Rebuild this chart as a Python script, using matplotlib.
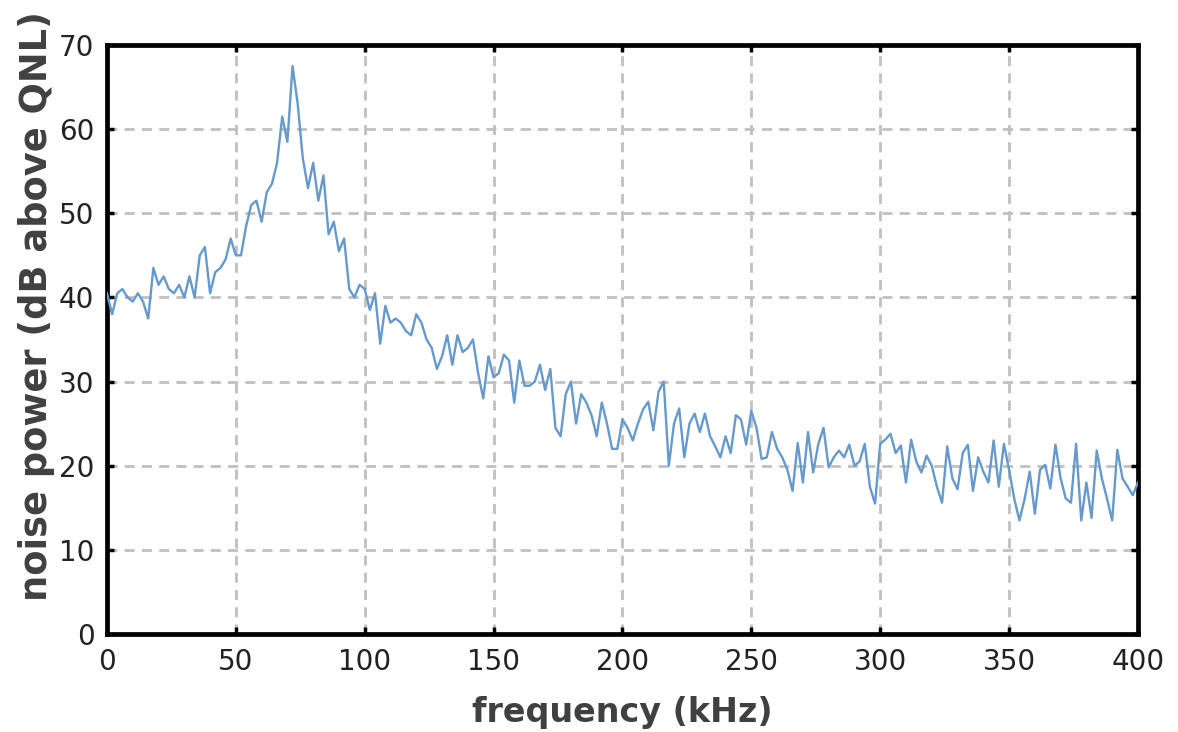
# noise power spectrum above the quantum noise limit
import numpy as np
import matplotlib.pyplot as plt

# frequency axis, 2 kHz bins from 0 to 400 kHz
freq = np.arange(0, 401, 2)

# measured noise power (dB above QNL), one value per bin
noise_db = [
    40.5, 38.0, 40.5, 41.0, 40.0, 39.5, 40.5, 39.5, 37.5, 43.5,
    41.5, 42.5, 41.0, 40.5, 41.5, 40.0, 42.5, 40.0, 45.0, 46.0,
    40.5, 43.0, 43.5, 44.5, 47.0, 45.0, 45.0, 48.5, 51.0, 51.5,
    49.0, 52.5, 53.5, 56.0, 61.5, 58.5, 67.5, 63.0, 56.5, 53.0,
    56.0, 51.5, 54.5, 47.5, 49.0, 45.5, 47.0, 41.0, 40.0, 41.5,
    41.0, 38.5, 40.5, 34.5, 39.0, 37.0, 37.5, 37.0, 36.0, 35.5,
    38.0, 37.0, 35.0, 34.0, 31.5, 33.0, 35.5, 32.0, 35.5, 33.5,
    34.0, 35.0, 31.0, 28.0, 33.0, 30.5, 31.0, 33.2, 32.5, 27.5,
    32.5, 29.5, 29.5, 30.0, 32.0, 29.0, 31.5, 24.5, 23.5, 28.5,
    30.0, 25.0, 28.5, 27.5, 26.0, 23.5, 27.5, 25.0, 22.0, 22.0,
    25.5, 24.5, 23.0, 25.0, 26.7, 27.6, 24.2, 28.8, 30.0, 20.0,
    25.0, 26.8, 21.0, 25.0, 26.2, 24.0, 26.2, 23.5, 22.3, 21.0,
    23.5, 21.5, 26.0, 25.5, 22.5, 26.5, 24.5, 20.8, 21.0, 24.0,
    22.0, 21.0, 19.5, 17.0, 22.7, 18.0, 24.0, 19.2, 22.6, 24.5,
    19.8, 21.0, 21.8, 21.0, 22.5, 20.0, 20.5, 22.6, 17.5, 15.5,
    22.6, 23.1, 23.8, 21.5, 22.4, 18.0, 23.1, 20.5, 19.2, 21.2,
    20.0, 17.5, 15.6, 22.3, 18.5, 17.2, 21.5, 22.5, 17.0, 21.0,
    19.3, 18.0, 23.0, 17.5, 22.6, 19.5, 16.1, 13.5, 16.0, 19.3,
    14.3, 19.5, 20.1, 17.3, 22.5, 18.5, 16.1, 15.6, 22.6, 13.5,
    18.0, 13.8, 21.8, 18.5, 16.1, 13.5, 21.9, 18.5, 17.5, 16.5,
    18.0,
]

x_ticks = list(range(0, 401, 50))
y_ticks = list(range(0, 71, 10))

fig = plt.figure(figsize=(11.78, 7.32), dpi=100)
ax = fig.add_axes([0.0908, 0.1339, 0.8752, 0.8046])

ax.plot(freq, noise_db, color='#6699cc', linewidth=1.7, zorder=3)

ax.set_xlim(0, 400)
ax.set_ylim(0, 70)
ax.set_xticks(x_ticks)
ax.set_yticks(y_ticks)

ax.grid(True, color='#c0c0c0', linestyle=(0, (3.6, 2.6)), linewidth=2)
ax.set_axisbelow(True)

for s in ax.spines.values():
    s.set_linewidth(3.4)
    s.set_color('black')

ax.tick_params(axis='both', direction='in', length=5, width=2.5,
               top=True, right=True, labelsize=20, labelcolor='#222222')
ax.tick_params(axis='x', pad=10)
ax.tick_params(axis='y', pad=9)

ax.set_xlabel('frequency (kHz)', fontsize=24, fontweight='bold', color='#404040')
ax.set_ylabel('noise power (dB above QNL)', fontsize=26.5, fontweight='bold', color='#404040')
ax.xaxis.set_label_coords(0.5, -0.105)
ax.yaxis.set_label_coords(-0.05, 0.557)

fig.savefig('out.png', dpi=100)
